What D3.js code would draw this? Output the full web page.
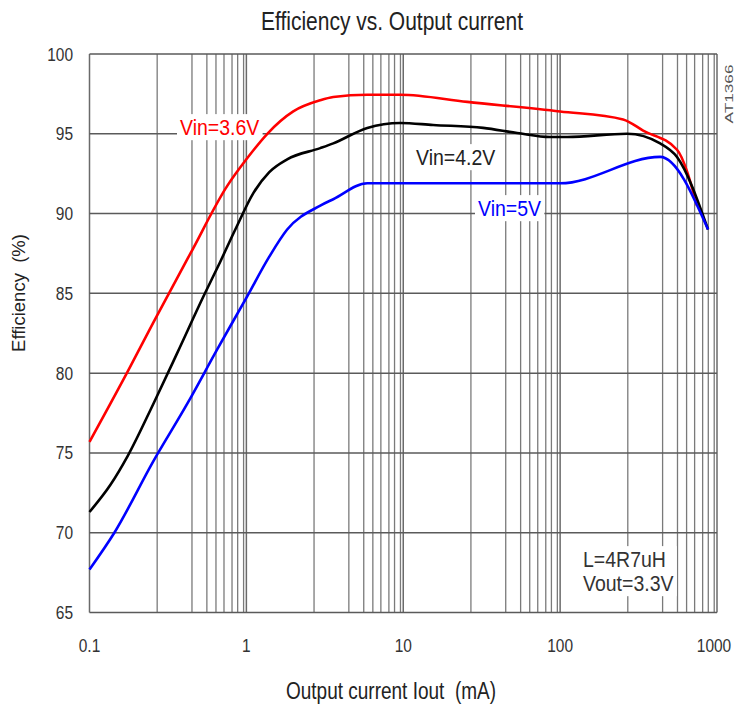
<!DOCTYPE html>
<html>
<head>
<meta charset="utf-8">
<script src="https://cdn.jsdelivr.net/npm/d3@7"></script>
<style>
  body { margin: 0; background: #fff; }
  svg { font-family: "Liberation Sans", Arial, sans-serif; }
</style>
</head>
<body>
<svg id="chart" width="737" height="713"></svg>
<script>
// Values
const decades = [0.1, 1, 10, 100, 1000];
const minorSteps = [2.7, 4.5, 5.6, 6.4, 7.2, 8.1, 8.8, 9.6]; // the grid of the original is not a true log grid
const effTicks = [65, 70, 75, 80, 85, 90, 95, 100];
const xTickLabels = ['0.1', '1', '10', '100', '1000'];

const iout36 = [0.1, 0.175, 0.256, 0.44, 0.757, 1.0, 1.36, 1.99, 2.96, 3.58, 5.9, 9.57, 25.6, 100, 252, 338, 556, 746];
const eff36 = [75.7, 80.1, 83.2, 87.5, 91.75, 93.4, 95.0, 96.4, 97.1, 97.3, 97.45, 97.45, 97.0, 96.4, 95.9, 95.2, 94.0, 90.5];

const iout42 = [0.1, 0.136, 0.175, 0.256, 0.364, 0.532, 0.683, 0.85, 1.11, 1.4, 1.82, 2.96, 3.58, 5.9, 9.57, 15.5, 32.3, 53.2, 86.3, 111, 267, 434, 556, 877];
const eff42 = [71.3, 73.0, 74.8, 78.1, 81.3, 84.8, 87.0, 89.0, 91.3, 92.6, 93.4, 94.1, 94.4, 95.37, 95.68, 95.55, 95.37, 95.05, 94.8, 94.8, 95.0, 94.4, 93.55, 89.0];

const iout5 = [0.1, 0.144, 0.256, 0.421, 0.653, 1.01, 1.4, 1.82, 2.96, 3.58, 5.9, 100, 434, 877];
const eff5 = [67.7, 70.0, 74.5, 78.1, 81.5, 84.8, 87.3, 89.0, 90.5, 90.9, 91.9, 91.9, 93.55, 89.0];

const series = [
  { name: 'Vin=3.6V', x: iout36, y: eff36, color: '#ff0000' },
  { name: 'Vin=4.2V', x: iout42, y: eff42, color: '#000000' },
  { name: 'Vin=5V', x: iout5, y: eff5, color: '#0000ff' }
];

// plot box
const plotLeft = 89.5;
const plotRight = 717;
const plotTop = 54;
const plotBottom = 612.5;
const stretch = 1.22; // the source text is drawn a bit taller than it is wide

const svg = d3.select('#chart');

const x = d3.scaleLog().domain([0.1, 1000]).range([plotLeft, plotRight]);
const y = d3.scaleLinear().domain([65, 100]).range([plotBottom, plotTop]);

// horizontal text stretched upward from its baseline
function tallText(parent, tx, ty, str, size, anchor, color) {
  return parent.append('text')
    .attr('transform', `translate(${tx},${ty}) scale(1,${stretch})`)
    .attr('text-anchor', anchor)
    .style('font-size', size + 'px')
    .style('white-space', 'pre')
    .style('fill', color)
    .text(str);
}

// Minor + major vertical grid
const minorVals = [];
decades.slice(0, -1).forEach(d => minorSteps.forEach(m => minorVals.push(d * m)));

const grid = svg.append('g').classed('grid', true);

grid.selectAll('line.minor')
  .data(minorVals)
  .join('line')
  .classed('minor', true)
  .attr('x1', d => x(d)).attr('x2', d => x(d))
  .attr('y1', plotTop).attr('y2', plotBottom)
  .style('stroke', '#7a7a7a')
  .style('stroke-width', 1.3);

grid.selectAll('line.major')
  .data(decades)
  .join('line')
  .classed('major', true)
  .attr('x1', d => x(d)).attr('x2', d => x(d))
  .attr('y1', plotTop).attr('y2', plotBottom)
  .style('stroke', '#6a6a6a')
  .style('stroke-width', 1.5);

grid.selectAll('line.h')
  .data(effTicks)
  .join('line')
  .classed('h', true)
  .attr('x1', plotLeft).attr('x2', plotRight)
  .attr('y1', d => y(d)).attr('y2', d => y(d))
  .style('stroke', '#5a5a5a')
  .style('stroke-width', 1.5);

// Tick labels
const tickG = svg.append('g');
effTicks.forEach(d => tallText(tickG, 73, y(d) + 6.5, d, 15.5, 'end', '#333'));
decades.forEach((d, i) => tallText(tickG, x(d) + (d === 1000 ? -3 : 0), 652, xTickLabels[i], 15.5, 'middle', '#333'));

// Titles
tallText(svg, 392, 30, 'Efficiency vs. Output current', 21, 'middle', '#222');
tallText(svg, 391, 699, 'Output current Iout  (mA)', 19, 'middle', '#222');

svg.append('text')
  .attr('transform', 'translate(25,293) rotate(-90)')
  .attr('text-anchor', 'middle')
  .style('font-size', '18.5px')
  .style('white-space', 'pre')
  .style('fill', '#222')
  .text('Efficiency  (%)');

svg.append('text')
  .attr('transform', 'translate(733,94) rotate(-90) scale(1.5,1)')
  .attr('text-anchor', 'middle')
  .style('font-size', '11.5px')
  .style('fill', '#555')
  .text('AT1366');

// Inline labels with a white box behind, like the original
const labels = [
  { lines: ['Vin=3.6V'], x: 180, y: 135, color: '#ff0000' },
  { lines: ['Vin=4.2V'], x: 416, y: 165, color: '#222' },
  { lines: ['Vin=5V'], x: 478, y: 216, color: '#0000ff' },
  { lines: ['L=4R7uH', 'Vout=3.3V'], x: 583, y: 567, color: '#333' }
];

const maskLayer = svg.append('g');
const curveLayer = svg.append('g');
const textLayer = svg.append('g');

labels.forEach(l => {
  const g = textLayer.append('g')
    .attr('transform', `translate(${l.x},${l.y})`);
  l.lines.forEach((s, i) => {
    g.append('text')
      .attr('transform', `translate(0,${i * 24}) scale(1,1.1)`)
      .style('font-size', '19.5px')
      .style('fill', l.color)
      .text(s);
  });
  const b = g.node().getBBox();
  maskLayer.append('rect')
    .attr('x', l.x + b.x - 3)
    .attr('y', l.y + b.y - 1)
    .attr('width', b.width + 6)
    .attr('height', b.height + 2)
    .style('fill', '#fff');
});

const line = d3.line()
  .x(d => x(d[0]))
  .y(d => y(d[1]))
  .curve(d3.curveMonotoneX);

series.forEach(s => {
  curveLayer.append('path')
    .datum(s.x.map((v, i) => [v, s.y[i]]))
    .attr('d', line)
    .style('fill', 'none')
    .style('stroke', s.color)
    .style('stroke-width', 2.6)
    .style('stroke-linejoin', 'round');
});
</script>
</body>
</html>
